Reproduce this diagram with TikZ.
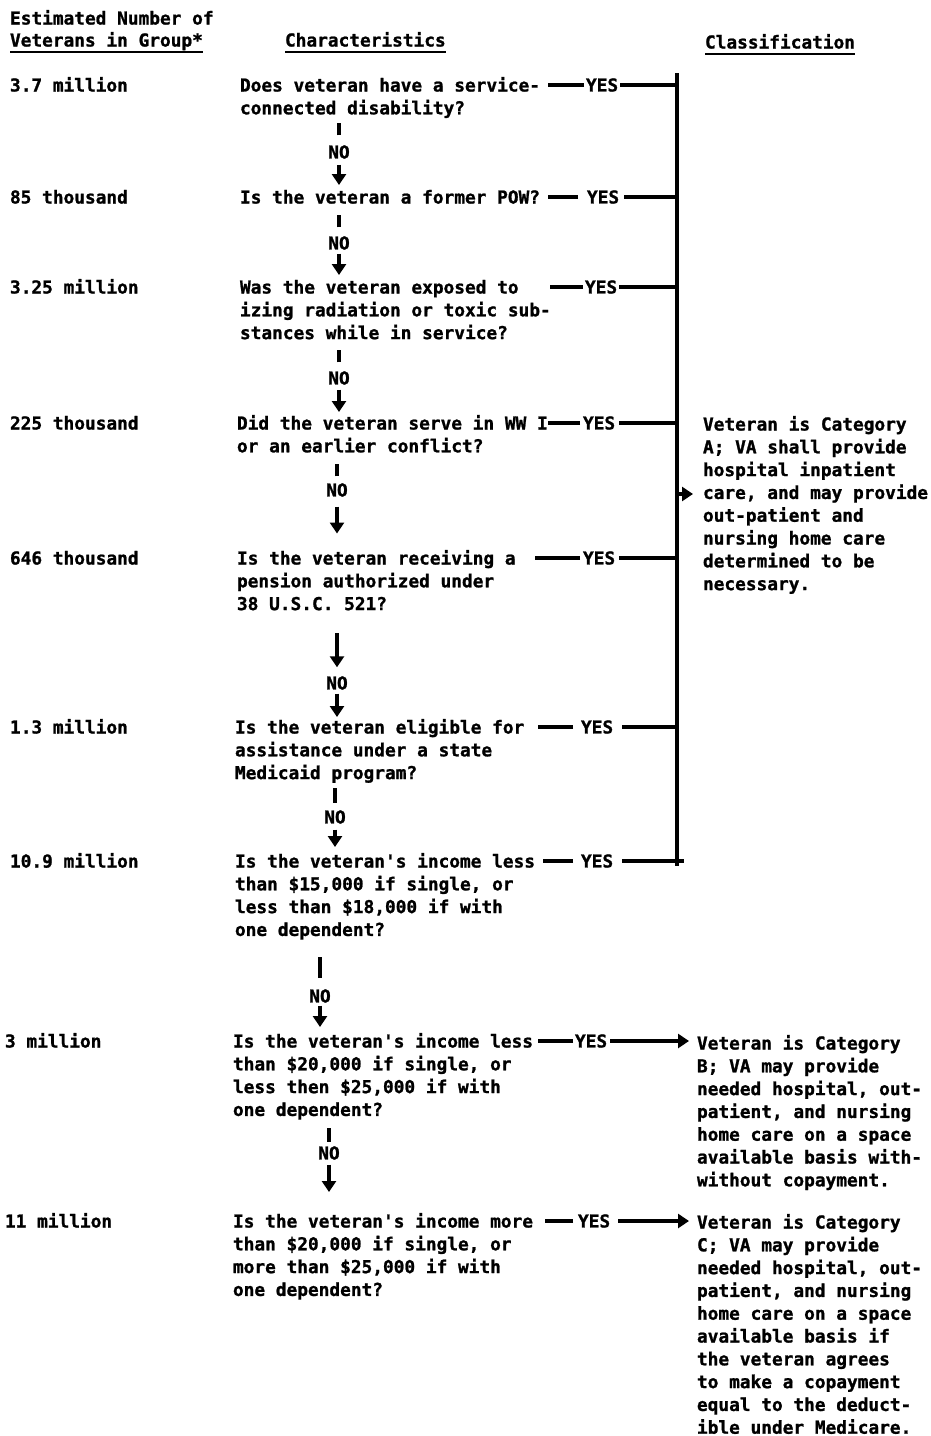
\documentclass[tikz,border=0pt]{standalone}
\usepackage{fontspec}
\newfontfamily\tw[BoldFeatures={FakeBold=1.2}]{DejaVu Sans Mono}
\usetikzlibrary{arrows.meta}
\newcommand\fs{\rule{0pt}{16pt}}
\begin{document}
\begin{tikzpicture}[x=1pt,y=-1pt,
  txt/.style={inner sep=0pt, outer sep=0pt, align=left, anchor=north west,
    font=\tw\bfseries\fontsize{17.8}{22.8}\selectfont},
  lab/.style={inner sep=0pt, outer sep=0pt, font=\tw\bfseries\fontsize{17.8}{22.8}\selectfont},
  num/.style={lab, anchor=base west},
  yesl/.style={lab, anchor=west},
  ln/.style={line width=3.2pt},
  ul/.style={line width=2.8pt},
  arr/.style={line width=3.2pt, -{Triangle[width=14pt,length=11pt]}},
]
\useasboundingbox (0,0) rectangle (931,1436);

% headers
\node[num] (hA) at (10,24.5) {Estimated Number of};
\node[num] (hB) at (10,46.5) {Veterans in Group*};
\node[num] (hC) at (285,46.5) {Characteristics};
\node[num] (hD) at (705,48.5) {Classification};
\draw[ul] ([yshift=-5.5]hB.base west) -- ([yshift=-5.5]hB.base east);
\draw[ul] ([yshift=-5.5]hC.base west) -- ([yshift=-5.5]hC.base east);
\draw[ul] ([yshift=-5.5]hD.base west) -- ([yshift=-5.5]hD.base east);

% numbers
\node[num] (n1) at (10,91.5) {3.7 million};
\node[num] (n2) at (10,203.5) {85 thousand};
\node[num] (n3) at (10,293.5) {3.25 million};
\node[num] (n4) at (10,429.5) {225 thousand};
\node[num] (n5) at (10,564.5) {646 thousand};
\node[num] (n6) at (10,733.5) {1.3 million};
\node[num] (n7) at (10,867.5) {10.9 million};
\node[num] (n8) at (5,1047.5) {3 million};
\node[num] (n9) at (5,1227.5) {11 million};

% questions
\node[txt] (q1) at (240,75.5) {\fs Does veteran have a service-\\connected disability?};
\node[txt] (q2) at (240,187.5) {\fs Is the veteran a former POW?};
\node[txt] (q3) at (240,277.5) {\fs Was the veteran exposed to\\izing radiation or toxic sub-\\stances while in service?};
\node[txt] (q4) at (237,413.5) {\fs Did the veteran serve in WW I\\or an earlier conflict?};
\node[txt] (q5) at (237,548.5) {\fs Is the veteran receiving a\\pension authorized under\\38 U.S.C. 521?};
\node[txt] (q6) at (235,717.5) {\fs Is the veteran eligible for\\assistance under a state\\Medicaid program?};
\node[txt] (q7) at (235,851.5) {\fs Is the veteran's income less\\than \$15,000 if single, or\\less than \$18,000 if with\\one dependent?};
\node[txt] (q8) at (233,1031.5) {\fs Is the veteran's income less\\than \$20,000 if single, or\\less then \$25,000 if with\\one dependent?};
\node[txt] (q9) at (233,1211.5) {\fs Is the veteran's income more\\than \$20,000 if single, or\\more than \$25,000 if with\\one dependent?};

% classifications
\node[txt] (catA) at (703,414.5) {\fs Veteran is Category\\A; VA shall provide\\hospital inpatient\\care, and may provide\\out-patient and\\nursing home care\\determined to be\\necessary.};
\node[txt] (catB) at (697,1033.5) {\fs Veteran is Category\\B; VA may provide\\needed hospital, out-\\patient, and nursing\\home care on a space\\available basis with-\\without copayment.};
\node[txt] (catC) at (697,1212.5) {\fs Veteran is Category\\C; VA may provide\\needed hospital, out-\\patient, and nursing\\home care on a space\\available basis if\\the veteran agrees\\to make a copayment\\equal to the deduct-\\ible under Medicare.};

% NO labels
\node[lab] (no1) at (339,152) {NO};
\node[lab] (no2) at (339,243) {NO};
\node[lab] (no3) at (339,378) {NO};
\node[lab] (no4) at (337,490) {NO};
\node[lab] (no5) at (337,683) {NO};
\node[lab] (no6) at (335,817) {NO};
\node[lab] (no7) at (320,996) {NO};
\node[lab] (no8) at (329,1153) {NO};
\coordinate (s5) at (337,633);

% NO stems and arrows
\draw[ln] ([yshift=10]no1.north) -- ++(0,-12);
\draw[arr] ([yshift=-6]no1.south) -- ([yshift=2.5]no1.south |- q2.north);
\draw[ln] ([yshift=9]no2.north) -- ++(0,-12);
\draw[arr] ([yshift=-4]no2.south) -- ([yshift=2.5]no2.south |- q3.north);
\draw[ln] ([yshift=9]no3.north) -- ++(0,-12);
\draw[arr] ([yshift=-5]no3.south) -- ([yshift=1.5]no3.south |- q4.north);
\draw[ln] ([yshift=7]no4.north) -- ++(0,-12);
\draw[arr] ([yshift=-10]no4.south) -- ([yshift=15]no4.south |- q5.north);
\draw[arr] (s5) -- ([yshift=9]no5.north);
\draw[arr] ([yshift=-4]no5.south) -- ([yshift=0.5]no5.south |- q6.north);
\draw[ln] ([yshift=7.5]no6.north) -- ++(0,-15);
\draw[arr] ([yshift=-6]no6.south) -- ([yshift=4.5]no6.south |- q7.north);
\draw[ln] ([yshift=11.5]no7.north) -- ++(0,-21);
\draw[arr] ([yshift=-3]no7.south) -- ([yshift=4.5]no7.south |- q8.north);
\draw[ln] ([yshift=4.5]no8.north) -- ++(0,-14);
\draw[arr] ([yshift=-5]no8.south) -- ([yshift=19.5]no8.south |- q9.north);

% YES labels
\node[yesl] (y1) at (586,85) {YES};
\node[yesl] (y2) at (587,197) {YES};
\node[yesl] (y3) at (585,287) {YES};
\node[yesl] (y4) at (583,423) {YES};
\node[yesl] (y5) at (583,558) {YES};
\node[yesl] (y6) at (581,727) {YES};
\node[yesl] (y7) at (581,861) {YES};
\node[yesl] (y8) at (575,1041) {YES};
\node[yesl] (y9) at (578,1221) {YES};

% dashes before YES
\draw[ln] ([xshift=-2]y1.west) -- ++(-36,0);
\draw[ln] ([xshift=-9]y2.west) -- ++(-30,0);
\draw[ln] ([xshift=-2]y3.west) -- ++(-33,0);
\draw[ln] ([xshift=-3]y4.west) -- ++(-32,0);
\draw[ln] ([xshift=-3]y5.west) -- ++(-45,0);
\draw[ln] ([xshift=-8]y6.west) -- ++(-35,0);
\draw[ln] ([xshift=-8]y7.west) -- ++(-30,0);
\draw[ln] ([xshift=-2]y8.west) -- ++(-35,0);
\draw[ln] ([xshift=-5]y9.west) -- ++(-28,0);

% bracket
\coordinate (bt) at (677,73);
\coordinate (bb) at (677,866);
\draw[ln] (bt) -- (bb);
\draw[ln] ([xshift=2]y1.east) -- (y1.east -| bt);
\draw[ln] ([xshift=5]y2.east) -- (y2.east -| bt);
\draw[ln] ([xshift=2]y3.east) -- (y3.east -| bt);
\draw[ln] ([xshift=4]y4.east) -- (y4.east -| bt);
\draw[ln] ([xshift=4]y5.east) -- (y5.east -| bt);
\draw[ln] ([xshift=9]y6.east) -- (y6.east -| bt);
\draw[ln] ([xshift=9]y7.east) -- ([xshift=7]y7.east -| bt);
\coordinate (am) at (677,494);
\draw[arr] (am) -- ([xshift=-10]am -| catA.west);

% arrows to B and C
\draw[arr] ([xshift=3]y8.east) -- ([xshift=-8]y8.east -| catB.west);
\draw[arr] ([xshift=8]y9.east) -- ([xshift=-8]y9.east -| catC.west);
\end{tikzpicture}
\end{document}
